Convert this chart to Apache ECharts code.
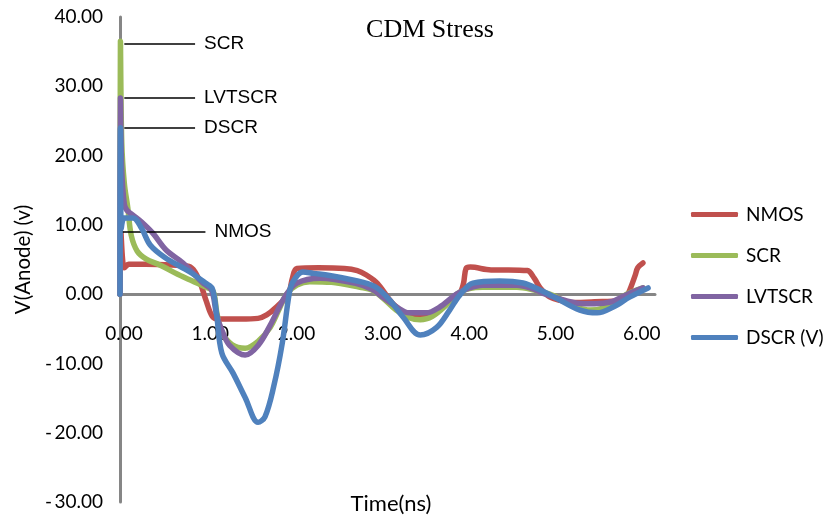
<!DOCTYPE html>
<html>
<head>
<meta charset="utf-8">
<title>CDM Stress</title>
<script src="https://cdn.jsdelivr.net/npm/echarts@6/dist/echarts.min.js"></script>
<style>
  html, body { margin: 0; padding: 0; background: #ffffff; }
  #chart { width: 830px; height: 519px; }
</style>
</head>
<body>
<div id="chart"></div>
<script>
// Anode voltage (V) versus time (ns) for each clamp under a CDM event
const seriesNames = ['NMOS', 'SCR', 'LVTSCR', 'DSCR (V)'];
const seriesColors = ['#C0504D', '#9BBB59', '#8064A2', '#4F81BD'];

const nmosPoints = [
  [0, 0], [0.01, 9], [0.03, 5], [0.05, 3.8], [0.1, 4.3], [0.3, 4.3], [0.6, 4.2],
  [0.8, 4.0], [0.87, 3.2], [0.93, 1.6], [1.0, -1.0], [1.07, -3.2], [1.15, -3.6],
  [1.4, -3.6], [1.6, -3.5], [1.7, -3.0], [1.8, -2.0], [1.95, 0], [2.0, 2.4],
  [2.05, 3.7], [2.3, 3.8], [2.6, 3.7], [2.75, 3.4], [2.85, 2.8], [2.98, 1.6],
  [3.13, -0.9], [3.2, -1.8], [3.35, -3.1], [3.55, -3.2], [3.75, -1.6], [3.93, 0],
  [3.98, 1.5], [4.01, 3.7], [4.06, 3.9], [4.3, 3.5], [4.5, 3.5], [4.72, 3.4],
  [4.8, 2.3], [4.87, 0.9], [4.98, -0.4], [5.1, -0.9], [5.25, -1.2], [5.5, -1.1],
  [5.79, -0.9], [5.87, -0.3], [5.92, 1.0], [5.97, 2.7], [6.0, 3.8], [6.06, 4.5]
];

const scrPoints = [
  [0, 0], [0.005, 36.5], [0.02, 22], [0.05, 16], [0.09, 12.5], [0.13, 8.5],
  [0.2, 6.2], [0.3, 5.1], [0.46, 4.2], [0.73, 2.5], [1.0, 1.0], [1.08, 0.4],
  [1.12, -2.5], [1.18, -5.5], [1.3, -7.3], [1.45, -7.8], [1.6, -6.8], [1.74, -4.8],
  [1.85, -2.0], [1.93, 0], [2.05, 1.3], [2.2, 1.8], [2.45, 1.7], [2.78, 1.0],
  [2.92, 0.6], [3.05, -0.6], [3.2, -2.3], [3.35, -3.4], [3.48, -3.7], [3.62, -3.2],
  [3.78, -1.6], [3.9, 0], [4.05, 0.8], [4.2, 1.0], [4.6, 1.0], [4.8, 0.6],
  [4.98, 0], [5.15, -1.0], [5.3, -1.9], [5.45, -2.3], [5.6, -2.0], [5.75, -1.0],
  [5.87, 0], [6.06, 0.9]
];

const lvtscrPoints = [
  [0, 0], [0.005, 28.3], [0.02, 18], [0.05, 13], [0.08, 12.1], [0.15, 11.4],
  [0.25, 10.4], [0.38, 8.8], [0.54, 6.3], [0.73, 4.5], [0.96, 1.6], [1.06, 0.6],
  [1.12, -3.0], [1.18, -5.2], [1.27, -7.4], [1.45, -8.8], [1.6, -7.4], [1.74, -4.5],
  [1.91, -0.4], [2.05, 1.6], [2.32, 2.3], [2.72, 1.6], [2.92, 0.7], [3.05, -0.5],
  [3.2, -1.8], [3.35, -2.7], [3.55, -2.7], [3.7, -1.9], [3.9, 0], [4.05, 0.9],
  [4.2, 1.3], [4.6, 1.3], [4.8, 0.7], [4.93, 0], [5.1, -0.7], [5.3, -1.3],
  [5.5, -1.4], [5.7, -1.1], [5.8, -0.5], [5.9, 0.1], [6.06, 0.9]
];

const dscrPoints = [
  [0, 0], [0.005, 24.0], [0.015, 9.5], [0.05, 11], [0.15, 11], [0.25, 9.5],
  [0.35, 7.1], [0.52, 5.3], [0.81, 3.2], [0.99, 1.6], [1.07, 0.8], [1.12, -3.0],
  [1.18, -8.5], [1.31, -11.4], [1.45, -14.9], [1.6, -18.5], [1.68, -17.7],
  [1.78, -13.4], [1.88, -7.1], [1.96, 0], [2.0, 1.7], [2.12, 3.2], [2.24, 3.0],
  [2.43, 2.7], [2.82, 1.7], [2.98, 0.9], [3.13, -0.9], [3.28, -3.3], [3.48, -5.9],
  [3.67, -4.8], [3.82, -2.3], [3.94, -0.1], [4.09, 1.6], [4.4, 1.9], [4.67, 1.6],
  [4.87, 0.6], [5.06, -0.6], [5.33, -2.3], [5.53, -2.7], [5.71, -1.9], [5.91, -0.4],
  [6.12, 0.9]
];

// Callout lines: [label, voltage, start time, end time]
const callouts = [
  ['NMOS', 8.95, 0.02, 0.99],
  ['SCR', 36.1, 0.05, 0.87],
  ['LVTSCR', 28.3, 0.05, 0.87],
  ['DSCR', 24.0, 0.05, 0.87]
];

const xAxisRange = [0, 6.2, 1];
const yAxisRange = [-30, 40, 10];

const allPoints = [nmosPoints, scrPoints, lvtscrPoints, dscrPoints];
const labelFont = 'Lato, "Open Sans", sans-serif';

const gridBox = { left: 120, right: 175, top: 17, bottom: 17 };
const chartHeight = 519;
const plotHeight = chartHeight - gridBox.top - gridBox.bottom;
// lift the time axis (line + labels) from the plot bottom up to V = 0
const zeroLift = plotHeight * (0 - yAxisRange[0]) / (yAxisRange[1] - yAxisRange[0]);

function fmt(v) {
  return v < 0 ? '-\u2009' + Math.abs(v).toFixed(2) : v.toFixed(2);
}

const series = seriesNames.map(function (name, i) {
  const c = callouts[i];
  return {
    name: name,
    type: 'line',
    data: allPoints[i],
    showSymbol: false,
    symbol: 'none',
    smooth: 0.35,
    z: 2 + i,
    lineStyle: { color: seriesColors[i], width: 5.5, cap: 'round', join: 'round' },
    itemStyle: { color: seriesColors[i] },
    markLine: {
      silent: true,
      symbol: ['none', 'none'],
      animation: false,
      lineStyle: { color: '#000000', width: 1.5, type: 'solid' },
      label: {
        show: true,
        position: 'end',
        distance: 9,
        formatter: '{b}',
        color: '#000000',
        fontFamily: '"Liberation Sans", Arial, sans-serif',
        fontSize: 19
      },
      data: [[{ name: c[0], coord: [c[2], c[1]] }, { coord: [c[3], c[1]] }]]
    }
  };
});

const chart = echarts.init(document.getElementById('chart'), null, { renderer: 'canvas' });
chart.setOption({
  animation: false,
  backgroundColor: '#ffffff',
  title: [
    {
      text: 'CDM Stress',
      left: 425,
      top: 12,
      textAlign: 'center',
      textStyle: { fontFamily: '"Liberation Serif", "Times New Roman", serif', fontSize: 26, fontWeight: 'normal', color: '#000000' }
    },
    {
      text: 'Time(ns)',
      left: 386,
      top: 488,
      textAlign: 'center',
      textStyle: { fontFamily: labelFont, fontSize: 22, fontWeight: 'normal', color: '#000000' }
    }
  ],
  legend: {
    orient: 'vertical',
    left: 686,
    top: 200,
    itemWidth: 47,
    itemHeight: 5,
    itemGap: 22,
    icon: 'roundRect',
    data: seriesNames,
    textStyle: { fontFamily: labelFont, fontSize: 19, color: '#000000', padding: [0, 0, 0, 3] }
  },
  grid: {
    left: gridBox.left, right: gridBox.right, top: gridBox.top, bottom: gridBox.bottom,
    containLabel: false,
    outerBoundsMode: 'none'
  },
  xAxis: {
    type: 'value',
    min: xAxisRange[0],
    max: xAxisRange[1],
    interval: xAxisRange[2],
    position: 'bottom',
    offset: -zeroLift,
    axisLine: { show: true, onZero: false, lineStyle: { color: '#868686', width: 3 } },
    axisTick: { show: false },
    splitLine: { show: false },
    axisLabel: {
      margin: 30,
      showMaxLabel: false,
      formatter: fmt,
      fontFamily: labelFont,
      fontSize: 19,
      color: '#000000',
      padding: [0, 0, 0, 8]
    }
  },
  yAxis: {
    type: 'value',
    min: yAxisRange[0],
    max: yAxisRange[1],
    interval: yAxisRange[2],
    name: 'V(Anode) (v)',
    nameLocation: 'middle',
    nameGap: 85,
    nameTextStyle: { fontFamily: labelFont, fontSize: 20.5, color: '#000000' },
    axisLine: { show: true, onZero: false, lineStyle: { color: '#868686', width: 3 } },
    axisTick: { show: false },
    splitLine: { show: false },
    axisLabel: {
      margin: 17,
      formatter: fmt,
      fontFamily: labelFont,
      fontSize: 19,
      color: '#000000'
    }
  },
  series: series
});
</script>
</body>
</html>
